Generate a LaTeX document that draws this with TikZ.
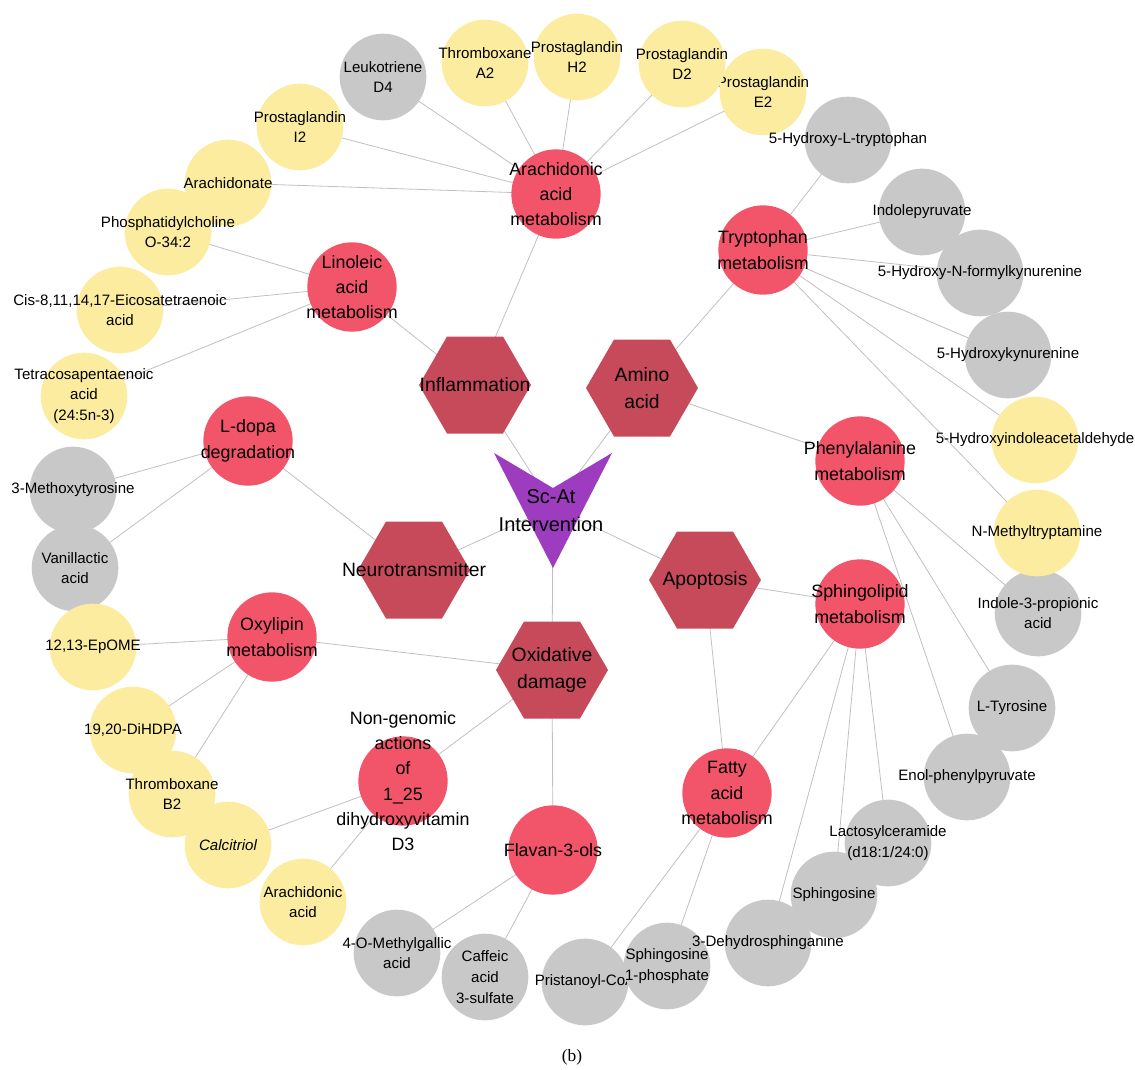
\documentclass[tikz,border=0pt]{standalone}
\usepackage{fontspec}
\setmainfont{Liberation Sans}
\newfontfamily\captionfont{Liberation Serif}
\usetikzlibrary{shapes.geometric, backgrounds}

\definecolor{pathred}{RGB}{242,85,105}
\definecolor{hexred}{RGB}{199,74,90}
\definecolor{hubpurple}{RGB}{158,60,192}
\definecolor{leafyellow}{RGB}{251,236,160}
\definecolor{leafgray}{RGB}{200,200,200}
\definecolor{edgegray}{RGB}{192,192,192}

\begin{document}
\begin{tikzpicture}[
        x=0.75pt, y=-0.75pt,
        font=\fontsize{11.3}{15.5}\selectfont,
        hexnode/.style={
            regular polygon,
            regular polygon sides=6,
            minimum size=84pt,
            inner sep=0pt,
            fill=hexred
        },
        hexlabel/.style={
            font=\fontsize{14.5}{20.5}\selectfont,
            align=center,
            inner sep=0pt
        },
        pathnode/.style={
            circle,
            fill=pathred,
            minimum size=67pt,
            inner sep=0pt
        },
        pathlabel/.style={
            font=\fontsize{13.4}{19}\selectfont,
            align=center,
            inner sep=0pt
        },
        yleaf/.style={circle, fill=leafyellow, minimum size=65pt, inner sep=0pt},
        gleaf/.style={circle, fill=leafgray, minimum size=65pt, inner sep=0pt},
        leaflabel/.style={align=center, inner sep=0pt},
        hublabel/.style={
            font=\fontsize{15}{21}\selectfont,
            align=center,
            inner sep=0pt
        },
        link/.style={draw=edgegray, line width=0.6pt}
    ]

    \useasboundingbox (0,0) rectangle (1135,1070);

    % centre
    \coordinate (hub) at (553,507);
    \fill[hubpurple] ([shift={(-59,-54)}]hub) -- ([shift={(0,-19)}]hub)
        -- ([shift={(59,-54)}]hub) -- ([shift={(0,61)}]hub) -- cycle;
    \node[hublabel] (hubtext) at ([shift={(-2,4)}]hub) {Sc-At\\Intervention};

    % categories
    \node[hexnode, label={[hexlabel]center:{Inflammation}}] (infl) at (475,385) {};
    \node[hexnode, label={[hexlabel]center:{Amino\\acid}}] (amino) at (642,388) {};
    \node[hexnode, label={[hexlabel]center:{Neurotransmitter}}] (neuro) at (414,570) {};
    \node[hexnode, label={[hexlabel]center:{Apoptosis}}] (apopt) at (705,580) {};
    \node[hexnode, label={[hexlabel]center:{Oxidative\\damage}}] (oxid) at (552,670) {};

    % pathways
    \node[pathnode, label={[pathlabel]center:{Arachidonic\\acid\\metabolism}}] (arach) at (556,194) {};
    \node[pathnode, label={[pathlabel]center:{Linoleic\\acid\\metabolism}}] (linol) at (352,287) {};
    \node[pathnode, label={[pathlabel]center:{Tryptophan\\metabolism}}] (trypt) at (763,250) {};
    \node[pathnode, label={[pathlabel]center:{Phenylalanine\\metabolism}}] (phenyl) at (860,461) {};
    \node[pathnode, label={[pathlabel]center:{L-dopa\\degradation}}] (ldopa) at (248,441) {};
    \node[pathnode, label={[pathlabel]center:{Oxylipin\\metabolism}}] (oxyl) at (272,637) {};
    \node[pathnode, label={[pathlabel]center:{Sphingolipid\\metabolism}}] (sphingo) at (860,604) {};
    \node[pathnode, label={[pathlabel]center:{Non-genomic\\actions\\of\\1\_25\\dihydroxyvitamin\\D3}}] (nongen) at (403,781) {};
    \node[pathnode, label={[pathlabel]center:{Fatty\\acid\\metabolism}}] (fatty) at (727,793) {};
    \node[pathnode, label={[pathlabel]center:{Flavan-3-ols}}] (flavan) at (553,850) {};

    % metabolites
    \node[gleaf, label={[leaflabel]center:{Leukotriene\\D4}}] (lkd4) at (383,77) {};
    \node[yleaf, label={[leaflabel]center:{Thromboxane\\A2}}] (txa2) at (485,63) {};
    \node[yleaf, label={[leaflabel]center:{Prostaglandin\\H2}}] (pgh2) at (577,57) {};
    \node[yleaf, label={[leaflabel]center:{Prostaglandin\\E2}}] (pge2) at (763,92) {};
    \node[yleaf, label={[leaflabel]center:{Prostaglandin\\D2}}] (pgd2) at (682,64) {};
    \node[yleaf, label={[leaflabel]center:{Prostaglandin\\I2}}] (pgi2) at (300,127) {};
    \node[yleaf, label={[leaflabel]center:{Arachidonate}}] (arachate) at (228,183) {};
    \node[yleaf, label={[leaflabel]center:{Phosphatidylcholine\\O-34:2}}] (pcho) at (168,232) {};
    \node[yleaf, label={[leaflabel]center:{Cis-8,11,14,17-Eicosatetraenoic\\acid}}] (cis) at (120,310) {};
    \node[yleaf, label={[leaflabel]center:{Tetracosapentaenoic\\acid\\(24:5n-3)}}] (tetra) at (84,396) {};
    \node[gleaf, label={[leaflabel]center:{3-Methoxytyrosine}}] (mtyr) at (73,490) {};
    \node[gleaf, label={[leaflabel]center:{Vanillactic\\acid}}] (vanil) at (75,568) {};
    \node[yleaf, label={[leaflabel]center:{12,13-EpOME}}] (epome) at (93,647) {};
    \node[yleaf, label={[leaflabel]center:{19,20-DiHDPA}}] (dihdpa) at (133,730) {};
    \node[yleaf, label={[leaflabel]center:{Thromboxane\\B2}}] (txb2) at (172,794) {};
    \node[yleaf, label={[leaflabel]center:{\itshape Calcitriol}}] (calci) at (228,845) {};
    \node[yleaf, label={[leaflabel]center:{Arachidonic\\acid}}] (araacid) at (303,902) {};
    \node[gleaf, label={[leaflabel]center:{4-O-Methylgallic\\acid}}] (mgall) at (397,953) {};
    \node[gleaf, label={[leaflabel]center:{Caffeic\\acid\\3-sulfate}}] (caff) at (485,977) {};
    \node[gleaf, label={[leaflabel]center:{Pristanoyl-CoA}}] (prist) at (585,982) {};
    \node[gleaf, label={[leaflabel]center:{Sphingosine\\1-phosphate}}] (s1p) at (667,966) {};
    \node[gleaf, label={[leaflabel]center:{3-Dehydrosphinganine}}] (dehyd) at (768,943) {};
    \node[gleaf, label={[leaflabel]center:{Sphingosine}}] (sphin) at (834,895) {};
    \node[gleaf, label={[leaflabel]center:{Lactosylceramide\\(d18:1/24:0)}}] (lacto) at (888,843) {};
    \node[gleaf, label={[leaflabel]center:{Enol-phenylpyruvate}}] (enol) at (967,777) {};
    \node[gleaf, label={[leaflabel]center:{L-Tyrosine}}] (ltyr) at (1012,708) {};
    \node[gleaf, label={[leaflabel]center:{Indole-3-propionic\\acid}}] (ind3) at (1038,613) {};
    \node[yleaf, label={[leaflabel]center:{N-Methyltryptamine}}] (nmt) at (1037,533) {};
    \node[yleaf, label={[leaflabel]center:{5-Hydroxyindoleacetaldehyde}}] (hiald) at (1035,440) {};
    \node[gleaf, label={[leaflabel]center:{5-Hydroxykynurenine}}] (hkyn) at (1008,355) {};
    \node[gleaf, label={[leaflabel]center:{5-Hydroxy-N-formylkynurenine}}] (hnfk) at (980,273) {};
    \node[gleaf, label={[leaflabel]center:{Indolepyruvate}}] (ipyr) at (922,212) {};
    \node[gleaf, label={[leaflabel]center:{5-Hydroxy-L-tryptophan}}] (htrp) at (848,140) {};

    \node[font=\captionfont\fontsize{13}{15}\selectfont] (caption) at (572,1057) {(b)};

    \begin{scope}[on background layer]
    \draw[link] (hub) -- (infl.center);
    \draw[link] (hub) -- (amino.center);
    \draw[link] (hub) -- (neuro.center);
    \draw[link] (hub) -- (apopt.center);
    \draw[link] (hub) -- (oxid.center);

    \draw[link] (infl.center) -- (arach.center);
    \draw[link] (infl.center) -- (linol.center);
    \draw[link] (amino.center) -- (trypt.center);
    \draw[link] (amino.center) -- (phenyl.center);
    \draw[link] (neuro.center) -- (ldopa.center);
    \draw[link] (apopt.center) -- (sphingo.center);
    \draw[link] (apopt.center) -- (fatty.center);
    \draw[link] (oxid.center) -- (oxyl.center);
    \draw[link] (oxid.center) -- (nongen.center);
    \draw[link] (oxid.center) -- (flavan.center);

    \draw[link] (arach.center) -- (lkd4.center);
    \draw[link] (arach.center) -- (txa2.center);
    \draw[link] (arach.center) -- (pgh2.center);
    \draw[link] (arach.center) -- (pgd2.center);
    \draw[link] (arach.center) -- (pge2.center);
    \draw[link] (arach.center) -- (pgi2.center);
    \draw[link] (arach.center) -- (arachate.center);
    \draw[link] (linol.center) -- (pcho.center);
    \draw[link] (linol.center) -- (cis.center);
    \draw[link] (linol.center) -- (tetra.center);
    \draw[link] (ldopa.center) -- (mtyr.center);
    \draw[link] (ldopa.center) -- (vanil.center);
    \draw[link] (oxyl.center) -- (epome.center);
    \draw[link] (oxyl.center) -- (dihdpa.center);
    \draw[link] (oxyl.center) -- (txb2.center);
    \draw[link] (nongen.center) -- (calci.center);
    \draw[link] (nongen.center) -- (araacid.center);
    \draw[link] (flavan.center) -- (mgall.center);
    \draw[link] (flavan.center) -- (caff.center);
    \draw[link] (fatty.center) -- (prist.center);
    \draw[link] (fatty.center) -- (s1p.center);
    \draw[link] (sphingo.center) -- (fatty.center);
    \draw[link] (sphingo.center) -- (dehyd.center);
    \draw[link] (sphingo.center) -- (sphin.center);
    \draw[link] (sphingo.center) -- (lacto.center);
    \draw[link] (phenyl.center) -- (enol.center);
    \draw[link] (phenyl.center) -- (ltyr.center);
    \draw[link] (phenyl.center) -- (ind3.center);
    \draw[link] (trypt.center) -- (nmt.center);
    \draw[link] (trypt.center) -- (hiald.center);
    \draw[link] (trypt.center) -- (hkyn.center);
    \draw[link] (trypt.center) -- (hnfk.center);
    \draw[link] (trypt.center) -- (ipyr.center);
    \draw[link] (trypt.center) -- (htrp.center);
    \end{scope}

    \end{tikzpicture}
\end{document}
